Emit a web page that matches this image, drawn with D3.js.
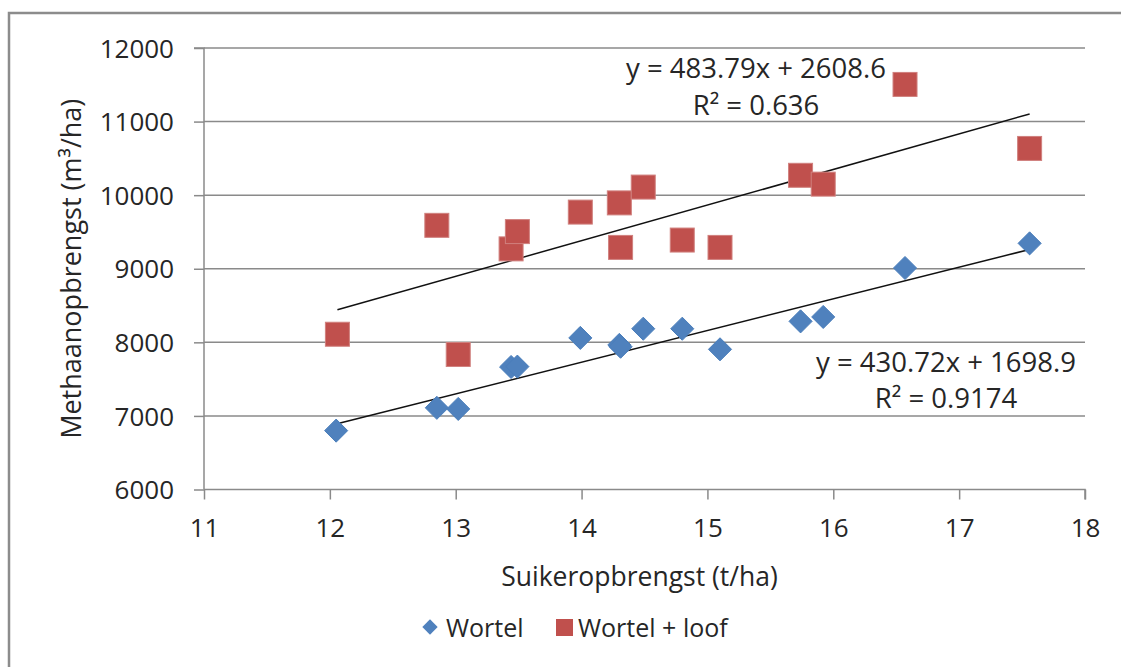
<!DOCTYPE html>
<html>
<head>
<meta charset="utf-8">
<script src="https://cdn.jsdelivr.net/npm/d3@7"></script>
<style>
  html, body { margin: 0; padding: 0; background: #fff; }
  svg { display: block; font-family: "Open Sans", sans-serif; }
</style>
</head>
<body>
<svg id="chart" width="1121" height="667"></svg>
<script>
// ---- data ----
const wortelX = [12.05, 12.85, 13.02, 13.44, 13.49, 13.99, 14.30, 14.31, 14.49, 14.80, 15.10, 15.74, 15.92, 16.57, 17.56];
const wortelY = [6800, 7110, 7095, 7665, 7670, 8060, 7965, 7940, 8185, 8185, 7905, 8285, 8345, 9010, 9345];
const loofX   = [12.06, 12.85, 13.02, 13.44, 13.49, 13.99, 14.30, 14.31, 14.49, 14.80, 15.10, 15.74, 15.92, 16.57, 17.56];
const loofY   = [8110, 9590, 7835, 9270, 9505, 9770, 9895, 9290, 10110, 9390, 9290, 10270, 10150, 11505, 10635];
const seriesNames = ["Wortel", "Wortel + loof"];
const trendSlope = [430.72, 483.79];
const trendIntercept = [1698.9, 2608.6];
const trendEq = ["y = 430.72x + 1698.9", "y = 483.79x + 2608.6"];
const trendR2 = ["R\u00b2 = 0.9174", "R\u00b2 = 0.636"];
const xTicks = [11, 12, 13, 14, 15, 16, 17, 18];
const yTicks = [6000, 7000, 8000, 9000, 10000, 11000, 12000];
const xTitle = "Suikeropbrengst (t/ha)";
const yTitle = "Methaanopbrengst (m\u00b3/ha)";

// ---- layout ----
const svg = d3.select("#chart");
const L = 204, R = 1085, T = 48, B = 489.5;
const x = d3.scaleLinear().domain([11, 18]).range([L, R]);
const y = d3.scaleLinear().domain([6000, 12000]).range([B, T]);
const gridColor = "#8a8a8a";
const textColor = "#262626";
const colors = ["#4F81BD", "#C0504D"];
const strokeColors = ["#4A7EBB", "#BE4B48"];

// outer border
svg.append("path")
  .attr("d", `M9,667 L9,13 L1121,13`)
  .attr("fill", "none").attr("stroke", "#8c8c8c").attr("stroke-width", 2.5);

// gridlines
svg.append("g").selectAll("line").data(yTicks.filter(v => v > 6000)).join("line")
  .attr("x1", L).attr("x2", R).attr("y1", d => y(d)).attr("y2", d => y(d))
  .attr("stroke", gridColor).attr("stroke-width", 1.5);

// y axis
const yAxis = d3.axisLeft(y).tickValues(yTicks).tickSize(10).tickPadding(20).tickFormat(d3.format("d"));
const gy = svg.append("g").attr("transform", `translate(${L},0)`).call(yAxis);
gy.select(".domain").attr("stroke", gridColor).attr("stroke-width", 1.5).attr("d", `M-10,${T}H0V${B}`);
gy.selectAll(".tick line").attr("stroke", gridColor).attr("stroke-width", 1.5);
gy.selectAll(".tick text").attr("fill", textColor).attr("font-size", 26)
  .attr("font-family", "'Open Sans', sans-serif").attr("dy", "0.35em");

// x axis
const xAxis = d3.axisBottom(x).tickValues(xTicks).tickSize(10).tickPadding(19).tickFormat(d3.format("d"));
const gx = svg.append("g").attr("transform", `translate(0,${B})`).call(xAxis);
gx.select(".domain").attr("stroke", gridColor).attr("stroke-width", 1.5).attr("d", `M${L},0H${R}V10`);
gx.selectAll(".tick line").attr("stroke", gridColor).attr("stroke-width", 1.5);
gx.selectAll(".tick text").attr("fill", textColor).attr("font-size", 26)
  .attr("font-family", "'Open Sans', sans-serif");

// axis titles
svg.append("text").attr("x", (L + R) / 2 - 5).attr("y", 586).attr("text-anchor", "middle")
  .attr("font-size", 26.5).attr("fill", textColor).text(xTitle);
svg.append("text").attr("transform", `translate(81,${(T + B) / 2}) rotate(-90)`)
  .attr("text-anchor", "middle").attr("font-size", 27).attr("fill", textColor).text(yTitle);

// trendlines
const seriesX = [wortelX, loofX];
const seriesY = [wortelY, loofY];
[0, 1].forEach(i => {
  const xs = seriesX[i];
  const x0 = d3.min(xs), x1 = d3.max(xs);
  svg.append("line")
    .attr("x1", x(x0)).attr("y1", y(trendSlope[i] * x0 + trendIntercept[i]))
    .attr("x2", x(x1)).attr("y2", y(trendSlope[i] * x1 + trendIntercept[i]))
    .attr("stroke", "#111").attr("stroke-width", 1.5);
});

// markers
const diamond = d3.symbol().type(d3.symbolDiamond2).size(340);
svg.append("g").selectAll("path").data(d3.zip(wortelX, wortelY)).join("path")
  .attr("d", diamond)
  .attr("transform", d => `translate(${x(d[0])},${y(d[1])})`)
  .attr("fill", colors[0]).attr("stroke", strokeColors[0]).attr("stroke-width", 1);
const sq = 24;
svg.append("g").selectAll("rect").data(d3.zip(loofX, loofY)).join("rect")
  .attr("x", d => x(d[0]) - sq / 2).attr("y", d => y(d[1]) - sq / 2)
  .attr("width", sq).attr("height", sq)
  .attr("fill", colors[1]).attr("stroke", "#d0807e").attr("stroke-width", 1);

// trend equations
const eqPos = [[946, 372, 408], [756, 78, 115]];
[0, 1].forEach(i => {
  const g = svg.append("g").attr("font-size", 27.5).attr("fill", textColor).attr("text-anchor", "middle");
  g.append("text").attr("x", eqPos[i][0]).attr("y", eqPos[i][1]).text(trendEq[i]);
  g.append("text").attr("x", eqPos[i][0]).attr("y", eqPos[i][2]).text(trendR2[i]);
});

// legend
const lg = svg.append("g");
lg.append("path").attr("d", d3.symbol().type(d3.symbolDiamond2).size(150))
  .attr("transform", "translate(430,627)").attr("fill", colors[0]);
lg.append("text").attr("x", 446).attr("y", 637).attr("font-size", 25).attr("fill", textColor).text(seriesNames[0]);
lg.append("rect").attr("x", 556).attr("y", 619).attr("width", 17).attr("height", 17).attr("fill", colors[1]);
lg.append("text").attr("x", 578).attr("y", 637).attr("font-size", 25).attr("fill", textColor).text(seriesNames[1]);
</script>
</body>
</html>
